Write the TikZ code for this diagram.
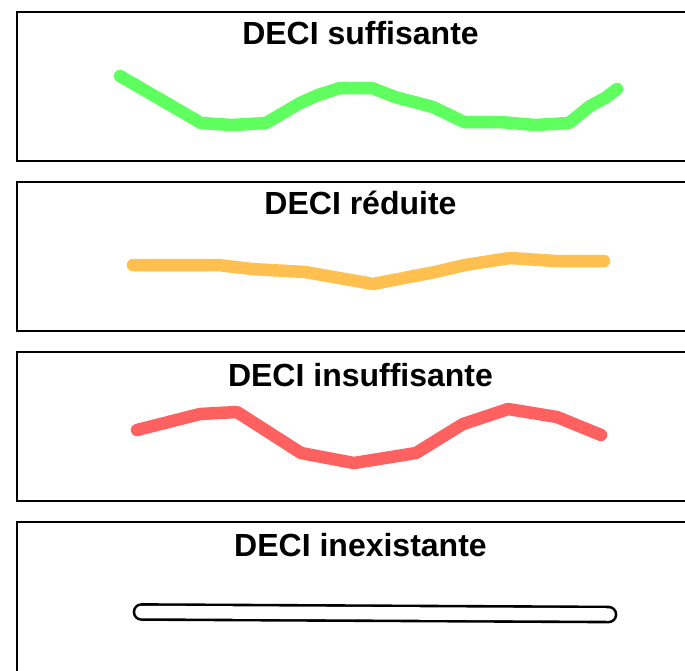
\documentclass[tikz,border=0pt]{standalone}
\usepackage{fontspec}
\setmainfont{Liberation Sans}
\definecolor{cgreen}{HTML}{5FFF5F}
\definecolor{corange}{HTML}{FFC04F}
\definecolor{cred}{HTML}{FF6161}
\begin{document}
\begin{tikzpicture}[x=1pt,y=-1pt,
  panel/.style={draw=black, line width=2.2pt, fill=white},
  title/.style={font=\fontsize{32}{37}\selectfont\bfseries, anchor=base, inner sep=0pt},
  trace/.style={line width=12.5pt, line cap=round, line join=round}]
\useasboundingbox (0,0) rectangle (685,670);
\clip (0,0) rectangle (685,670);
% panels
\draw[panel] (17,12) rectangle (703,161);
\draw[panel] (17,182) rectangle (703,331);
\draw[panel] (17,352) rectangle (703,501);
\draw[panel] (17,522) rectangle (703,674);
% titles
\node[title] (t1) at (360.5,44) {DECI suffisante};
\node[title] (t2) at (360.5,214) {DECI réduite};
\node[title] (t3) at (360.5,386) {DECI insuffisante};
\node[title] (t4) at (360.5,556) {DECI inexistante};
% green trace
\draw[trace, cgreen] (120,76) -- (201,123) -- (232,125) -- (266,123) -- (300,103) -- (318,95) -- (340,88) -- (372,88) -- (395,97) -- (433,107) -- (464,122) -- (500,122) -- (535,125) -- (569,123) -- (590,106) -- (605,98) -- (617,89);
% orange trace
\draw[trace, corange] (133,265) -- (218,265) -- (252,269) -- (305,272) -- (373,284) -- (435,272) -- (465,265) -- (510,258) -- (555,261) -- (604,261);
% red trace
\draw[trace, cred] (137,430) -- (200,414) -- (237,412) -- (301,453) -- (354,463) -- (416,453) -- (463,424) -- (508,409) -- (557,417) -- (601,435);
% empty trace
\draw[line width=2.6pt, double=white, double distance=12.5pt, line cap=round] (141.5,612) -- (608.5,614.5);
\end{tikzpicture}
\end{document}
